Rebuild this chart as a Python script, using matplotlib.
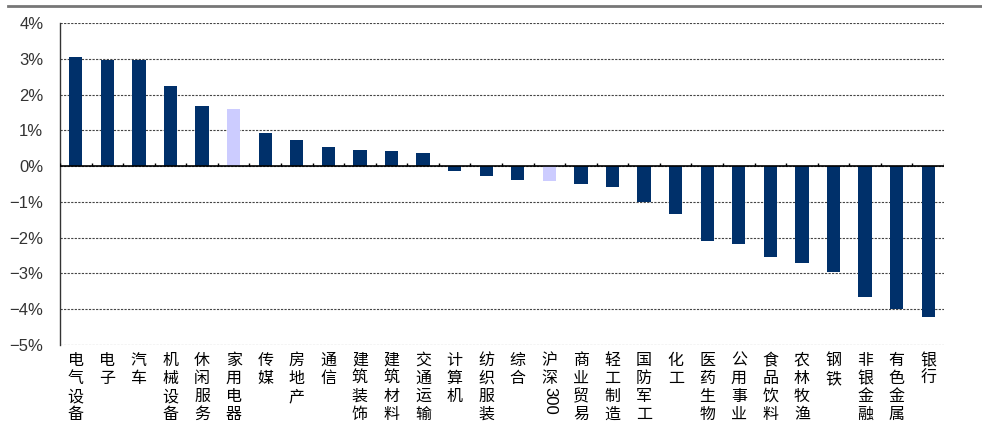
import numpy as np
import matplotlib
matplotlib.use('Agg')
import matplotlib.pyplot as plt
from matplotlib.lines import Line2D
from matplotlib.ticker import FuncFormatter

plt.rcParams['font.family'] = ['Liberation Sans', 'Noto Sans CJK SC', 'DejaVu Sans']

# industry returns (%), sorted
categories = ['电气设备', '电子', '汽车', '机械设备', '休闲服务', '家用电器', '传媒', '房地产',
              '通信', '建筑装饰', '建筑材料', '交通运输', '计算机', '纺织服装', '综合', '沪深300',
              '商业贸易', '轻工制造', '国防军工', '化工', '医药生物', '公用事业', '食品饮料',
              '农林牧渔', '钢铁', '非银金融', '有色金属', '银行']
values = [3.04, 2.96, 2.96, 2.23, 1.68, 1.59, 0.92, 0.73,
          0.53, 0.45, 0.42, 0.36, -0.15, -0.27, -0.38, -0.43,
          -0.50, -0.58, -1.00, -1.33, -2.08, -2.17, -2.53,
          -2.70, -2.95, -3.65, -3.99, -4.23]
highlight = ['家用电器', '沪深300']

navy = '#00306A'
lavender = '#CCCCFF'

fig = plt.figure(figsize=(9.82, 4.30), dpi=100)
ax = fig.add_axes([0.0611, 0.1977, 0.9002, 0.7488])

x = np.arange(len(categories))
colors = [lavender if c in highlight else navy for c in categories]
ax.bar(x, values, width=0.42, color=colors, zorder=3)

ax.set_xlim(-0.5, len(categories) - 0.5)
ax.set_ylim(-5, 4)
ax.set_yticks(np.arange(-5, 5, 1))
ax.yaxis.set_major_formatter(FuncFormatter(lambda v, p: f'{v:.0f}%'.replace('-', '\u2212')))
ax.tick_params(axis='y', length=0, pad=12, labelsize=12, labelcolor='#333333')
ax.grid(axis='y', linestyle=(0, (2, 1.2)), color='#444444', linewidth=0.8, zorder=0)

# zero line with small ticks at category boundaries
ax.axhline(0, color='black', linewidth=1.2, zorder=4)
ax.vlines(np.arange(len(categories) + 1) - 0.5, 0, 0.1, color='black', linewidth=1, zorder=4)

for s in ['top', 'right', 'bottom']:
    ax.spines[s].set_visible(False)
ax.spines['left'].set_color('#333333')
ax.spines['left'].set_linewidth(1)

# vertical stacked Chinese tick labels
ax.set_xticks(x)
labels = []
for c in categories:
    if c == '沪深300':
        labels.append('沪\n深')
    else:
        labels.append('\n'.join(c))
ax.set_xticklabels(labels, fontsize=11.5, va='top', linespacing=1.08,
                   family=['Noto Sans CJK SC', 'DejaVu Sans'])
ax.tick_params(axis='x', length=0, pad=5)

i = categories.index('沪深300')
ax.text(i, -0.13, '300', rotation=-90, ha='center', va='top', fontsize=12,
        transform=ax.get_xaxis_transform(), family=['Liberation Sans'])

fig.add_artist(Line2D([0.008, 1.0], [0.986, 0.986], color='#777777', linewidth=2))

fig.savefig('out.png', dpi=100)
